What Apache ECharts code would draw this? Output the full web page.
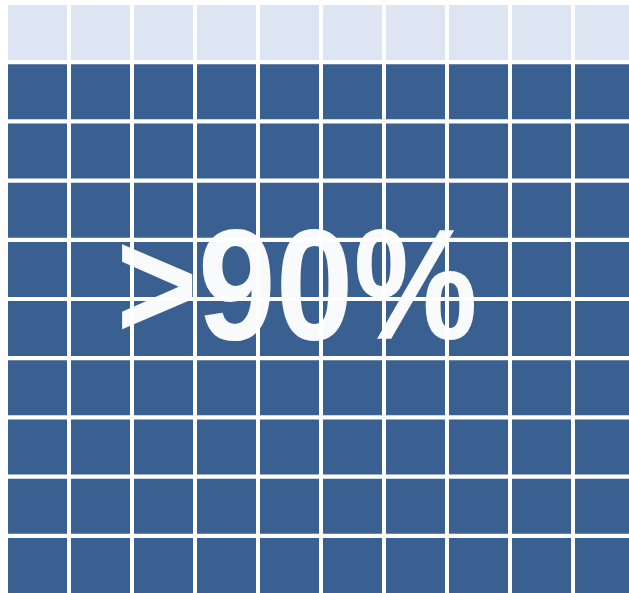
<!DOCTYPE html>
<html>
<head>
<meta charset="utf-8">
<script src="https://cdn.jsdelivr.net/npm/echarts@6/dist/echarts.min.js"></script>
<style>
html,body{margin:0;padding:0;background:#fff;}
#chart{width:629px;height:593px;}
</style>
</head>
<body>
<div id="chart"></div>
<script>
// Waffle chart data: 10 x 10 cells, 90 filled out of 100
const columns = ['1','2','3','4','5','6','7','8','9','10'];
const rows = ['1','2','3','4','5','6','7','8','9','10'];
const filledCount = 90;
const totalCount = 100;
const labelText = '>90%';

const cells = [];
// fill from bottom row upward; unfilled cells end up in the top row
for (let k = 0; k < totalCount; k++) {
  const r = Math.floor(k / columns.length);   // 0 = bottom row
  const c = k % columns.length;
  cells.push([c, rows.length - 1 - r, k < filledCount ? 1 : 0]);
}

const chart = echarts.init(document.getElementById('chart'));
chart.setOption({
  animation: false,
  grid: { left: 6, top: 3, width: 630, height: 592, containLabel: false, outerBoundsMode: 'none' },
  xAxis: { type: 'category', data: columns, show: false },
  yAxis: { type: 'category', data: rows, inverse: true, show: false },
  series: [{
    type: 'custom',
    data: cells,
    encode: { x: 0, y: 1 },
    clip: false,
    renderItem: function (params, api) {
      const center = api.coord([api.value(0), api.value(1)]);
      const size = api.size([1, 1]);
      const w = size[0] - 4;
      const h = size[1] - 4.2;
      return {
        type: 'rect',
        shape: { x: center[0] - w / 2, y: center[1] - h / 2, width: w, height: h },
        style: { fill: api.value(2) ? '#396090' : '#dce5f1' }
      };
    }
  }],
  graphic: [{
    type: 'text',
    x: 297,
    y: 296,
    scaleX: 0.89,
    z: 100,
    style: {
      text: labelText,
      font: 'bold 157px "Liberation Sans", Arial, sans-serif',
      fill: 'rgba(255,255,255,0.97)',
      textAlign: 'center',
      textVerticalAlign: 'middle'
    }
  }]
});
</script>
</body>
</html>
